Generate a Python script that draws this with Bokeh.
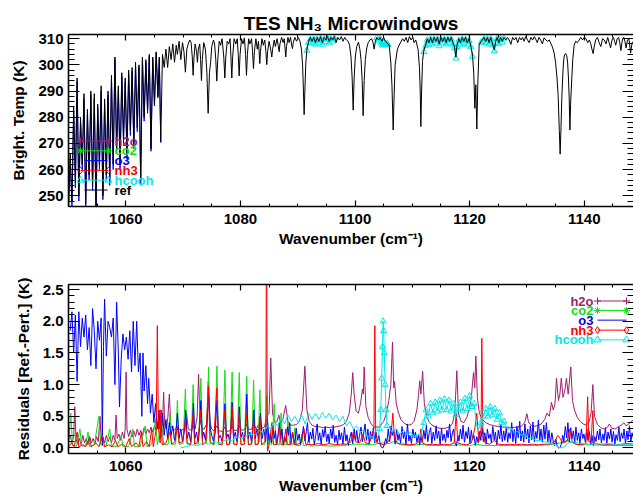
from bokeh.plotting import figure
from bokeh.models import (Range1d, LinearAxis, SingleIntervalTicker, PrintfTickFormatter, Label,
                          CustomLabelingPolicy)
from bokeh.layouts import column
from bokeh.embed import file_html
from bokeh.resources import INLINE

# ---------------- data ----------------
species = ["h2o", "co2", "o3", "nh3", "hcooh"]

# reference brightness-temperature spectrum (wavenumber cm-1, K)
ref_spectrum = [
    (1050.0, 246), (1050.3, 266), (1050.6, 248), (1050.9, 284), (1051.2, 255), (1051.5, 295),
    (1051.8, 250), (1052.1, 280), (1052.4, 262), (1052.7, 289), (1053.0, 247), (1053.3, 283),
    (1053.6, 258), (1053.9, 290), (1054.2, 254), (1054.5, 289), (1054.8, 246), (1055.1, 285),
    (1055.4, 262), (1055.7, 292), (1056.0, 250), (1056.3, 287), (1056.6, 258), (1056.9, 290),
    (1057.2, 256), (1057.5, 296), (1057.8, 262), (1058.1, 303), (1058.4, 268), (1058.7, 292),
    (1059.0, 262), (1059.3, 297), (1059.6, 272), (1059.9, 295), (1060.2, 266), (1060.5, 298),
    (1060.8, 275), (1061.1, 299), (1061.4, 270), (1061.7, 301), (1062.0, 276), (1062.3, 300),
    (1062.6, 256), (1062.9, 303), (1063.2, 280), (1063.5, 302), (1063.8, 283), (1064.1, 304),
    (1064.4, 268), (1064.7, 303), (1065.0, 285), (1065.3, 305), (1065.6, 288), (1065.85, 303),
    (1066.1, 270.6), (1066.4, 304), (1066.7, 299), (1067.0, 306), (1067.3, 299), (1067.6, 307),
    (1067.9, 302), (1068.2, 308), (1068.5, 301), (1068.8, 307.5), (1069.0, 304), (1069.3, 309),
    (1069.6, 302), (1069.9, 308.5), (1070.15, 305), (1070.4, 297.2), (1070.65, 306), (1070.9, 308),
    (1071.15, 309.5), (1071.4, 308.5), (1071.6, 303), (1071.75, 296), (1071.9, 303), (1072.1, 308),
    (1072.35, 305), (1072.5, 301), (1072.65, 306), (1072.9, 308), (1073.05, 302), (1073.2, 294),
    (1073.35, 302), (1073.6, 308.5), (1073.9, 306), (1074.15, 297), (1074.37, 281.5), (1074.6, 297),
    (1074.8, 301), (1075.0, 307), (1075.3, 309.5), (1075.5, 308), (1075.7, 302), (1075.88, 293.8),
    (1076.05, 302), (1076.3, 309), (1076.55, 307.5), (1076.8, 310), (1077.1, 303), (1077.28, 295),
    (1077.45, 303), (1077.7, 309), (1077.95, 308), (1078.2, 310), (1078.35, 303), (1078.5, 295),
    (1078.65, 303), (1078.9, 310), (1079.2, 308), (1079.45, 310), (1079.62, 304), (1079.78, 295.8),
    (1079.94, 304), (1080.2, 310), (1080.45, 308), (1080.7, 310.3), (1080.9, 304), (1081.06, 296),
    (1081.22, 304), (1081.45, 310), (1081.65, 308), (1081.95, 310), (1082.12, 305), (1082.28, 298.6),
    (1082.44, 305), (1082.7, 310), (1082.95, 306), (1083.15, 309), (1083.27, 305), (1083.38, 300.5),
    (1083.5, 305), (1083.75, 310), (1084.0, 307.5), (1084.25, 309.5), (1084.45, 305), (1084.6, 300.1),
    (1084.75, 305), (1085.0, 309), (1085.2, 307), (1085.35, 305), (1085.48, 303), (1085.62, 306),
    (1085.9, 309.5), (1086.1, 307), (1086.4, 310), (1086.62, 307), (1086.76, 305), (1086.9, 308),
    (1087.2, 310.5), (1087.45, 308.5), (1087.65, 310), (1087.8, 306), (1087.92, 303), (1088.05, 307),
    (1088.3, 310.5), (1088.5, 308.5), (1088.75, 310.5), (1088.95, 307.5), (1089.09, 306.2), (1089.23, 308.5),
    (1089.5, 310.5), (1089.8, 309), (1090.1, 310.5), (1090.4, 309), (1090.65, 306), (1090.85, 300),
    (1091.0, 290), (1091.12, 281), (1091.25, 290), (1091.4, 300), (1091.6, 306), (1091.9, 309),
    (1092.2, 310.5), (1092.5, 309), (1092.8, 310.5), (1093.1, 308.5), (1093.4, 310.5), (1093.7, 309),
    (1094.0, 310.8), (1094.3, 308.5), (1094.6, 310.5), (1094.9, 309.5), (1095.2, 310.8), (1095.5, 309),
    (1095.8, 310.5), (1096.1, 309.5), (1096.4, 310.8), (1096.7, 308.5), (1097.0, 310.5), (1097.3, 309.5),
    (1097.6, 310.8), (1097.9, 309), (1098.2, 310.5), (1098.5, 309.5), (1098.8, 309), (1099.05, 307.5),
    (1099.3, 303), (1099.5, 295), (1099.68, 282.7), (1099.85, 295), (1100.05, 303), (1100.3, 307),
    (1100.6, 308.7), (1100.85, 306), (1101.05, 302), (1101.25, 294), (1101.42, 280.6), (1101.6, 294),
    (1101.8, 302), (1102.05, 306.5), (1102.3, 308.5), (1102.6, 309.5), (1102.9, 310), (1103.15, 308.5),
    (1103.34, 306), (1103.55, 309), (1103.8, 310.5), (1104.1, 309.5), (1104.4, 310.5), (1104.7, 309),
    (1105.0, 310.5), (1105.3, 309), (1105.6, 308.5), (1105.96, 307.5), (1106.25, 301), (1106.45, 292),
    (1106.66, 275.1), (1106.85, 290), (1107.0, 300), (1107.4, 306), (1107.7, 307.5), (1108.0, 308.7),
    (1108.3, 310), (1108.6, 309), (1108.9, 310.5), (1109.2, 308.5), (1109.5, 310.8), (1109.8, 309.5),
    (1110.1, 310.5), (1110.3, 308.5), (1110.6, 309.5), (1111.0, 306), (1111.25, 299), (1111.38, 290),
    (1111.49, 276.4), (1111.62, 290), (1111.78, 301.3), (1112.0, 305.5), (1112.36, 308), (1112.6, 310),
    (1112.9, 308.5), (1113.2, 310.5), (1113.5, 308.5), (1113.8, 310.5), (1114.1, 309), (1114.4, 310.5),
    (1114.7, 308), (1115.0, 310.5), (1115.3, 309), (1115.6, 310.5), (1115.9, 308.5), (1116.2, 310.5),
    (1116.5, 309), (1116.8, 310.5), (1117.1, 308.5), (1117.35, 307), (1117.6, 303), (1117.8, 307.5),
    (1118.1, 310), (1118.4, 308.5), (1118.7, 310.5), (1119.0, 309), (1119.3, 310.5), (1119.6, 308.5),
    (1119.9, 310), (1120.2, 307.5), (1120.5, 303.9), (1120.72, 297), (1120.91, 283.4), (1121.08, 292.4),
    (1121.26, 275.5), (1121.42, 292), (1121.66, 307.5), (1122.0, 309), (1122.2, 309.4), (1122.5, 310.5),
    (1122.8, 309), (1123.1, 310.5), (1123.4, 308.5), (1123.7, 310.5), (1124.0, 308), (1124.3, 305.9),
    (1124.55, 309), (1124.8, 310.5), (1125.1, 308.5), (1125.4, 310.5), (1125.7, 309), (1126.0, 310.5),
    (1126.3, 309.5), (1126.6, 310.5), (1126.9, 309.5), (1127.2, 307.8), (1127.5, 310.5), (1127.8, 309.5),
    (1128.1, 310.5), (1128.4, 308.5), (1128.7, 310.5), (1129.0, 309.5), (1129.25, 310.5), (1129.5, 309),
    (1129.8, 310.8), (1130.1, 309.5), (1130.4, 308.5), (1130.7, 310.5), (1131.0, 309.5), (1131.3, 310.8),
    (1131.6, 309.5), (1131.8, 308.5), (1132.1, 310.5), (1132.4, 309.5), (1132.7, 308), (1133.0, 310.3),
    (1133.3, 309.5), (1133.6, 309), (1133.9, 309.5), (1134.2, 308), (1134.46, 306.8), (1134.75, 304.5),
    (1135.0, 301), (1135.25, 295), (1135.45, 288.3), (1135.65, 275), (1135.8, 265.9), (1135.95, 276),
    (1136.1, 288), (1136.3, 298), (1136.44, 302.4), (1136.6, 304), (1136.8, 304.3), (1136.95, 303.5),
    (1137.1, 301), (1137.25, 295), (1137.38, 287), (1137.5, 275.1), (1137.62, 285), (1137.83, 294.8),
    (1138.0, 302), (1138.24, 307.5), (1138.5, 309), (1138.8, 308.5), (1139.1, 309.4), (1139.4, 310.5),
    (1139.7, 309.5), (1140.0, 310.5), (1140.3, 310), (1140.6, 308.5), (1140.9, 309.5), (1141.15, 308),
    (1141.35, 306), (1141.56, 304.3), (1141.75, 307), (1142.0, 309.5), (1142.3, 310.5), (1142.6, 308.5),
    (1142.9, 307), (1143.2, 310), (1143.5, 309.5), (1143.8, 308), (1144.1, 310.5), (1144.35, 308.5),
    (1144.6, 306.5), (1144.85, 309.5), (1145.1, 310.5), (1145.3, 309), (1145.5, 307.5), (1145.75, 310),
    (1146.0, 310.5), (1146.2, 308.5), (1146.4, 305.5), (1146.65, 309.5), (1146.9, 310.5), (1147.1, 309),
    (1147.3, 306.5), (1147.55, 309.5), (1147.8, 310), (1148.1, 304.5), (1148.35, 308.5), (1148.6, 309),
]

# o3-perturbed spectrum in the dense ozone region (shows below the reference)
o3_spectrum_dense = [
    (1050.0, 244), (1050.3, 264), (1050.6, 246), (1050.9, 282), (1051.2, 253), (1051.5, 293.5),
    (1051.8, 248), (1052.1, 278), (1052.4, 260), (1052.7, 287), (1053.0, 245), (1053.3, 281),
    (1053.6, 256), (1053.9, 288.5), (1054.2, 252), (1054.5, 287), (1054.8, 244), (1055.1, 283.5),
    (1055.4, 260), (1055.7, 290), (1056.0, 248.5), (1056.3, 285), (1056.6, 256), (1056.9, 288.5),
    (1057.2, 254), (1057.5, 294.5), (1057.8, 260), (1058.1, 302), (1058.4, 266), (1058.7, 290.5),
    (1059.0, 260), (1059.3, 295.5), (1059.6, 270), (1059.9, 293.5), (1060.2, 264), (1060.5, 296.5),
    (1060.8, 273), (1061.1, 297.5), (1061.4, 268), (1061.7, 299.5), (1062.0, 274.5), (1062.3, 299),
    (1062.6, 254), (1062.9, 302), (1063.2, 278.5), (1063.5, 301), (1063.8, 281.5), (1064.1, 303.2),
    (1064.4, 267), (1064.7, 302.3), (1065.0, 284.3), (1065.3, 304.5), (1065.6, 287.4), (1065.85, 302.6),
    (1066.1, 270.2),
]

# hcooh-perturbed spectrum in its microwindows (top panel)
hcooh_spectrum_windows = [
    [(1091.6, 305.5), (1091.9, 308.5), (1092.2, 309.8), (1092.5, 308.3), (1092.8, 309.8), (1093.1, 307.8),
     (1093.4, 309.8), (1093.7, 308.3), (1094.0, 310.1), (1094.3, 307.8), (1094.6, 309.8), (1094.9, 308.8),
     (1095.2, 310.1), (1095.5, 308.3), (1095.8, 309.8), (1096.1, 309.0), (1096.4, 310.2)],
    [(1103.8, 310.3), (1104.1, 309.3), (1104.4, 310.0), (1104.6, 308.2), (1104.75, 307.5), (1104.9, 308.5),
     (1105.0, 308.7), (1105.15, 307.6), (1105.3, 308.0), (1105.45, 307.8), (1105.6, 308.1), (1105.8, 307.6)],
    [(1112.0, 305.0), (1112.36, 307.4), (1112.6, 309.5), (1112.9, 307.8), (1113.2, 309.8), (1113.5, 307.9),
     (1113.8, 309.8), (1114.1, 308.3), (1114.4, 309.8), (1114.7, 307.2), (1115.0, 309.8), (1115.3, 308.3),
     (1115.6, 309.7), (1115.9, 307.9), (1116.2, 309.8), (1116.5, 308.3), (1116.8, 309.8), (1117.1, 307.8),
     (1117.35, 306.4), (1117.6, 302.5), (1117.8, 306.9), (1118.1, 309.3), (1118.4, 307.8), (1118.7, 309.8),
     (1119.0, 308.2), (1119.3, 309.7), (1119.6, 307.8), (1119.9, 309.2), (1120.2, 306.8), (1120.5, 303.2)],
    [(1122.0, 308.6), (1122.2, 308.9), (1122.5, 309.9), (1122.8, 308.4), (1123.1, 309.9), (1123.4, 307.9),
     (1123.7, 309.9), (1124.0, 307.5), (1124.3, 305.3), (1124.55, 308.5), (1124.8, 310.0), (1125.1, 308.0),
     (1125.4, 310.0), (1125.7, 308.6), (1126.0, 310.1)],
]

# residuals Ref - Pert (K)
h2o_resid = [
    (1050.0, 0.12), (1050.3, 0.2), (1050.6, 0.08), (1050.9, 0.18), (1051.1, 0.65), (1051.3, 0.15),
    (1051.6, 0.06), (1051.9, 0.15), (1052.2, 0.05), (1052.5, 0.2), (1052.8, 0.08), (1053.1, 0.15),
    (1053.4, 0.05), (1053.7, 0.18), (1054.0, 0.08), (1054.3, 0.15), (1054.6, 0.06), (1054.9, 0.18),
    (1055.2, 0.1), (1055.5, 0.5), (1055.7, 0.12), (1056.0, 0.18), (1056.3, 0.08), (1056.6, 0.2),
    (1056.9, 0.1), (1057.2, 0.17), (1057.5, 0.08), (1057.8, 0.2), (1058.1, 0.12), (1058.3, 0.52),
    (1058.5, 0.15), (1058.8, 0.22), (1059.1, 0.12), (1059.4, 0.25), (1059.7, 0.15), (1059.9, 0.3),
    (1060.05, 1.2), (1060.2, 0.3), (1060.5, 0.18), (1060.8, 0.28), (1061.1, 0.17), (1061.4, 0.27),
    (1061.7, 0.18), (1062.0, 0.3), (1062.3, 0.2), (1062.6, 0.28), (1062.9, 0.2), (1063.2, 0.32),
    (1063.5, 0.22), (1063.8, 0.3), (1064.1, 0.24), (1064.4, 0.33), (1064.7, 0.25), (1065.0, 0.35),
    (1065.3, 0.28), (1065.6, 0.4), (1065.9, 0.3), (1066.15, 0.6), (1066.4, 0.35), (1066.6, 0.88),
    (1066.8, 0.35), (1067.1, 0.3), (1067.35, 0.5), (1067.6, 0.85), (1067.85, 0.35), (1068.2, 0.3),
    (1068.5, 0.28), (1068.8, 0.32), (1069.1, 0.28), (1069.4, 0.3), (1069.7, 0.27), (1070.0, 0.3),
    (1070.3, 0.28), (1070.6, 0.55), (1070.9, 0.3), (1071.2, 0.28), (1071.5, 0.3), (1071.8, 0.35),
    (1072.1, 0.3), (1072.45, 0.5), (1072.7, 1.16), (1072.95, 0.45), (1073.3, 0.3), (1073.7, 0.3),
    (1074.1, 0.38), (1074.4, 1.05), (1074.7, 0.4), (1075.0, 0.3), (1075.4, 0.27), (1075.9, 0.35),
    (1076.3, 0.27), (1076.8, 0.26), (1077.3, 0.33), (1077.7, 0.26), (1078.1, 0.27), (1078.55, 0.34),
    (1079.0, 0.27), (1079.4, 0.28), (1079.8, 0.35), (1080.2, 0.28), (1080.7, 0.29), (1081.1, 0.37),
    (1081.5, 0.29), (1082.0, 0.3), (1082.3, 0.38), (1082.8, 0.3), (1083.4, 0.42), (1083.8, 0.31),
    (1084.2, 0.33), (1084.6, 0.5), (1085.0, 0.55), (1085.3, 1.42), (1085.6, 0.55), (1086.0, 0.4),
    (1086.4, 0.42), (1086.7, 0.52), (1087.0, 0.4), (1087.4, 0.45), (1087.9, 0.67), (1088.3, 0.42),
    (1088.8, 0.36), (1089.3, 0.36), (1089.8, 0.37), (1090.3, 0.42), (1090.8, 0.6), (1091.25, 1.29),
    (1091.6, 0.6), (1092.0, 0.42), (1092.5, 0.36), (1093.0, 0.34), (1093.5, 0.34), (1094.0, 0.33),
    (1094.5, 0.32), (1095.0, 0.33), (1095.5, 0.32), (1096.0, 0.33), (1096.5, 0.33), (1097.0, 0.34),
    (1097.5, 0.35), (1098.0, 0.37), (1098.5, 0.42), (1099.0, 0.55), (1099.35, 0.85), (1099.6, 1.19),
    (1099.85, 0.85), (1100.2, 0.58), (1100.6, 0.55), (1100.95, 0.7), (1101.3, 0.93), (1101.45, 0.85),
    (1101.6, 1.28), (1101.9, 0.65), (1102.3, 0.48), (1102.8, 0.38), (1103.4, 0.33), (1104.0, 0.33),
    (1104.5, 0.36), (1105.0, 0.42), (1105.5, 0.55), (1105.9, 0.75), (1106.25, 1.0), (1106.55, 1.67),
    (1106.75, 0.95), (1106.9, 1.05), (1107.2, 0.7), (1107.6, 0.55), (1108.0, 0.45), (1108.6, 0.39),
    (1109.2, 0.36), (1109.8, 0.37), (1110.3, 0.42), (1110.8, 0.6), (1111.1, 0.85), (1111.3, 1.06),
    (1111.5, 0.85), (1111.8, 1.21), (1112.1, 0.7), (1112.5, 0.5), (1113.0, 0.4), (1113.6, 0.35),
    (1114.3, 0.32), (1115.0, 0.31), (1115.7, 0.31), (1116.4, 0.33), (1117.0, 0.38), (1117.4, 0.55),
    (1117.77, 1.22), (1118.05, 0.55), (1118.5, 0.42), (1119.0, 0.4), (1119.5, 0.48), (1119.95, 0.62),
    (1120.3, 0.8), (1120.68, 1.19), (1120.9, 0.95), (1121.09, 1.45), (1121.35, 0.8), (1121.7, 0.55),
    (1122.2, 0.45), (1122.8, 0.4), (1123.5, 0.37), (1124.3, 0.35), (1125.0, 0.34), (1125.8, 0.33),
    (1126.6, 0.33), (1127.4, 0.32), (1128.2, 0.33), (1129.0, 0.34), (1129.6, 0.4), (1130.0, 0.54),
    (1130.3, 0.4), (1131.0, 0.34), (1131.8, 0.35), (1132.5, 0.38), (1133.1, 0.45), (1133.5, 0.55),
    (1133.9, 0.5), (1134.29, 0.72), (1134.6, 0.6), (1134.9, 0.7), (1135.16, 1.1), (1135.5, 0.75),
    (1135.75, 0.85), (1136.0, 1.1), (1136.3, 0.8), (1136.6, 0.9), (1136.9, 1.1), (1137.2, 0.85),
    (1137.66, 1.28), (1137.95, 0.75), (1138.3, 0.6), (1138.8, 0.48), (1139.3, 0.42), (1139.8, 0.38),
    (1140.3, 0.36), (1140.8, 0.4), (1141.2, 0.55), (1141.5, 1.0), (1141.8, 0.5), (1142.3, 0.37),
    (1142.9, 0.32), (1143.5, 0.3), (1144.0, 0.32), (1144.4, 0.38), (1144.8, 0.31), (1145.4, 0.3),
    (1146.0, 0.34), (1146.5, 0.36), (1146.9, 0.4), (1147.3, 0.35), (1147.8, 0.38), (1148.2, 0.42),
    (1148.6, 0.44),
]

co2_resid = [
    (1050.0, 0.05), (1050.4, 0.55), (1050.7, 0.04), (1051.4, 0.03), (1052.0, 0.3), (1052.3, 0.03),
    (1053.0, 0.03), (1053.4, 0.25), (1053.7, 0.02), (1054.5, 0.05), (1055.3, 0.5), (1055.6, 0.05),
    (1056.5, 0.02), (1057.2, 0.3), (1057.5, 0.02), (1058.5, 0.03), (1059.2, 0.2), (1059.5, 0.02),
    (1060.5, 0.02), (1061.2, 0.3), (1061.5, 0.02), (1062.5, 0.02), (1063.4, 0.35), (1063.7, 0.02),
    (1064.5, 0.05), (1065.2, 0.45), (1065.5, 0.05), (1066.3, 0.4), (1066.6, 0.05), (1067.4, 0.06),
    (1067.7, 0.55), (1068.0, 0.06), (1068.7, 0.06), (1069.0, 0.75), (1069.3, 0.06), (1070.0, 0.07),
    (1070.4, 0.93), (1070.7, 0.06), (1071.4, 0.07), (1071.75, 1.0), (1072.05, 0.06), (1072.7, 0.07),
    (1073.1, 1.1), (1073.4, 0.06), (1074.1, 0.08), (1074.45, 1.28), (1074.75, 0.07), (1075.5, 0.06),
    (1075.9, 1.29), (1076.2, 0.06), (1076.9, 0.06), (1077.3, 1.23), (1077.6, 0.06), (1078.2, 0.06),
    (1078.55, 1.2), (1078.85, 0.06), (1079.45, 0.06), (1079.8, 1.19), (1080.1, 0.06), (1080.7, 0.06),
    (1081.1, 1.13), (1081.4, 0.06), (1082.0, 0.06), (1082.3, 1.07), (1082.6, 0.06), (1083.1, 0.06),
    (1083.4, 0.92), (1083.7, 0.06), (1084.3, 0.06), (1084.6, 0.83), (1084.9, 0.06), (1085.5, 0.06),
    (1085.9, 0.7), (1086.2, 0.06), (1086.8, 0.05), (1087.1, 0.55), (1087.4, 0.05), (1088.0, 0.05),
    (1088.3, 0.42), (1088.6, 0.05), (1089.2, 0.05), (1089.5, 0.32), (1089.8, 0.04), (1090.4, 0.04),
    (1090.7, 0.22), (1091.0, 0.04), (1091.6, 0.04), (1091.9, 0.15), (1092.2, 0.03), (1094.0, 0.04),
    (1096.0, 0.03), (1098.0, 0.04), (1099.7, 0.06), (1101.4, 0.06), (1103.0, 0.05), (1104.0, 0.07),
    (1105.0, 0.08), (1106.0, 0.07), (1106.7, 0.1), (1108.0, 0.05), (1110.0, 0.04), (1111.5, 0.06),
    (1113.0, 0.04), (1115.0, 0.04), (1117.0, 0.04), (1118.0, 0.05), (1120.0, 0.04), (1121.2, 0.06),
    (1122.5, 0.04), (1125.0, 0.04), (1128.0, 0.04), (1131.0, 0.04), (1134.0, 0.05), (1135.8, 0.08),
    (1137.0, 0.12), (1137.5, 0.1), (1139.0, 0.05), (1141.5, 0.05), (1144.0, 0.04), (1146.0, 0.04),
    (1148.6, 0.04),
]

o3_resid = [
    (1050.3, 1.85), (1050.6, 2.15), (1050.9, 1.5), (1051.2, 2.1), (1051.5, 1.05), (1051.8, 2.15),
    (1052.1, 1.6), (1052.4, 2.05), (1052.7, 1.75), (1053.0, 2.1), (1053.3, 1.55), (1053.6, 1.9),
    (1053.9, 1.3), (1054.2, 2.2), (1054.5, 1.85), (1054.8, 1.25), (1055.1, 2.0), (1055.4, 1.7),
    (1055.7, 2.05), (1055.9, 0.05), (1056.1, 1.6), (1056.3, 2.35), (1056.6, 1.45), (1056.9, 2.0),
    (1057.2, 1.9), (1057.5, 1.75), (1057.8, 2.05), (1058.1, 1.0), (1058.4, 2.3), (1058.7, 1.5),
    (1058.9, 0.65), (1059.2, 1.4), (1059.5, 1.8), (1059.8, 1.55), (1060.1, 1.75), (1060.4, 1.4),
    (1060.7, 1.85), (1061.0, 1.2), (1061.3, 2.0), (1061.6, 1.3), (1061.9, 2.0), (1062.2, 1.2),
    (1062.5, 1.5), (1062.8, 0.5), (1063.0, 1.5), (1063.2, 0.9), (1063.5, 1.3), (1063.8, 0.7),
    (1064.0, 1.1), (1064.3, 0.55), (1064.6, 0.85), (1064.9, 0.4), (1065.2, 0.7), (1065.5, 0.3),
    (1065.8, 0.6), (1066.1, 0.15), (1066.4, 0.55), (1066.7, 0.2), (1067.0, 0.45), (1067.3, 0.15),
    (1067.6, 0.4), (1067.9, 0.2), (1068.2, 0.35), (1068.5, 0.12), (1068.8, 0.3), (1069.0, 0.55),
    (1069.3, 0.15), (1069.6, 0.3), (1069.9, 0.1), (1070.2, 0.25), (1070.45, 0.6), (1070.7, 0.15),
    (1071.0, 0.25), (1071.3, 0.1), (1071.55, 0.3), (1071.8, 0.7), (1072.05, 0.15), (1072.35, 0.25),
    (1072.6, 0.1), (1072.85, 0.3), (1073.1, 0.75), (1073.35, 0.15), (1073.6, 0.25), (1073.9, 0.12),
    (1074.15, 0.35), (1074.45, 0.85), (1074.75, 0.3), (1075.0, 0.2), (1075.3, 0.1), (1075.6, 0.25),
    (1075.9, 0.75), (1076.2, 0.15), (1076.5, 0.2), (1076.8, 0.1), (1077.05, 0.25), (1077.3, 0.7),
    (1077.55, 0.15), (1077.85, 0.22), (1078.15, 0.1), (1078.35, 0.25), (1078.55, 0.72), (1078.8, 0.15),
    (1079.1, 0.25), (1079.4, 0.1), (1079.6, 0.2), (1079.8, 0.65), (1080.05, 0.15), (1080.35, 0.25),
    (1080.65, 0.1), (1080.9, 0.28), (1081.1, 0.85), (1081.35, 0.15), (1081.65, 0.25), (1081.95, 0.08),
    (1082.15, 0.25), (1082.35, 0.6), (1082.6, 0.15), (1082.9, 0.3), (1083.2, 0.1), (1083.5, 0.55),
    (1083.8, 0.15), (1084.1, 0.3), (1084.4, 0.1), (1084.7, 0.45), (1085.0, 0.12), (1085.2, 0.22),
    (1085.4, 0.08), (1085.65, 0.36), (1085.9, 0.15), (1086.1, 0.27), (1086.35, 0.06), (1086.6, 0.2),
    (1086.8, 0.4), (1087.05, 0.14), (1087.25, 0.3), (1087.5, 0.05), (1087.7, 0.18), (1087.95, 0.1),
    (1088.2, 0.33), (1088.4, 0.2), (1088.6, 0.4), (1088.85, 0.07), (1089.1, 0.25), (1089.3, 0.16),
    (1089.5, 0.06), (1089.75, 0.31), (1090.0, 0.12), (1090.25, 0.22), (1090.5, 0.05), (1090.75, 0.18),
    (1091.0, 0.34), (1091.25, 0.11), (1091.5, 0.26), (1091.7, 0.4), (1091.95, 0.09), (1092.2, 0.25),
    (1092.45, 0.14), (1092.65, 0.31), (1092.9, 0.05), (1093.15, 0.2), (1093.4, 0.38), (1093.6, 0.12),
    (1093.85, 0.24), (1094.1, 0.06), (1094.35, 0.29), (1094.55, 0.17), (1094.8, 0.34), (1095.05, 0.1),
    (1095.3, 0.22), (1095.5, 0.07), (1095.75, 0.3), (1096.0, 0.15), (1096.2, 0.36), (1096.45, 0.09),
    (1096.7, 0.2), (1096.95, 0.05), (1097.2, 0.28), (1097.4, 0.13), (1097.65, 0.24), (1097.9, 0.06),
    (1098.15, 0.33), (1098.4, 0.11), (1098.6, 0.21), (1098.85, 0.04), (1099.1, 0.16), (1099.35, 0.25),
    (1099.6, 0.07), (1099.85, 0.3), (1100.1, 0.12), (1100.3, 0.28), (1100.55, 0.08), (1100.8, 0.2),
    (1101.05, 0.33), (1101.3, 0.1), (1101.5, 0.22), (1101.75, 0.38), (1102.0, 0.12), (1102.25, 0.3),
    (1102.5, 0.06), (1102.7, 0.26), (1102.95, 0.14), (1103.2, 0.32), (1103.45, 0.08), (1103.65, 0.25),
    (1103.9, 0.1), (1104.15, 0.2), (1104.4, 0.06), (1104.6, 0.01), (1104.85, 0.0), (1105.1, 0.05),
    (1105.35, 0.15), (1105.55, 0.08), (1105.8, 0.3), (1106.05, 0.1), (1106.3, 0.35), (1106.55, 0.2),
    (1106.75, 0.28), (1107.0, 0.06), (1107.25, 0.3), (1107.5, 0.12), (1107.7, 0.22), (1107.95, 0.08),
    (1108.2, 0.34), (1108.45, 0.15), (1108.65, 0.26), (1108.9, 0.05), (1109.15, 0.38), (1109.4, 0.11),
    (1109.6, 0.2), (1109.85, 0.07), (1110.1, 0.3), (1110.35, 0.16), (1110.55, 0.25), (1110.8, 0.09),
    (1111.05, 0.2), (1111.3, 0.05), (1111.5, 0.18), (1111.75, 0.08), (1112.0, 0.28), (1112.25, 0.14),
    (1112.45, 0.36), (1112.7, 0.1), (1112.95, 0.24), (1113.2, 0.32), (1113.4, 0.07), (1113.65, 0.25),
    (1113.9, 0.12), (1114.15, 0.35), (1114.35, 0.15), (1114.6, 0.27), (1114.85, 0.06), (1115.1, 0.31),
    (1115.3, 0.12), (1115.55, 0.22), (1115.8, 0.09), (1116.05, 0.28), (1116.25, 0.16), (1116.5, 0.38),
    (1116.75, 0.1), (1117.0, 0.24), (1117.2, 0.3), (1117.45, 0.08), (1117.7, 0.03), (1117.95, 0.2),
    (1118.15, 0.11), (1118.4, 0.3), (1118.65, 0.14), (1118.85, 0.36), (1119.1, 0.09), (1119.35, 0.26),
    (1119.6, 0.15), (1119.8, 0.33), (1120.05, 0.07), (1120.3, 0.28), (1120.5, 0.13), (1120.75, 0.2),
    (1121.0, 0.04), (1121.25, 0.18), (1121.5, 0.08), (1121.7, 0.26), (1121.95, 0.12), (1122.2, 0.32),
    (1122.4, 0.1), (1122.65, 0.24), (1122.9, 0.06), (1123.1, 0.3), (1123.35, 0.15), (1123.6, 0.22),
    (1123.8, 0.08), (1124.05, 0.34), (1124.3, 0.12), (1124.5, 0.25), (1124.75, 0.05), (1125.0, 0.28),
    (1125.25, 0.14), (1125.45, 0.37), (1125.7, 0.1), (1125.95, 0.27), (1126.15, 0.12), (1126.4, 0.32),
    (1126.65, 0.09), (1126.85, 0.24), (1127.1, 0.15), (1127.35, 0.4), (1127.55, 0.1), (1127.8, 0.29),
    (1128.05, 0.07), (1128.25, 0.34), (1128.5, 0.16), (1128.75, 0.42), (1128.95, 0.11), (1129.2, 0.27),
    (1129.45, 0.09), (1129.65, 0.38), (1129.9, 0.14), (1130.15, 0.3), (1130.35, 0.08), (1130.6, 0.35),
    (1130.85, 0.13), (1131.05, 0.41), (1131.3, 0.1), (1131.55, 0.26), (1131.75, 0.15), (1132.0, 0.44),
    (1132.25, 0.12), (1132.45, 0.3), (1132.7, 0.09), (1132.95, 0.36), (1133.15, 0.14), (1133.4, 0.4),
    (1133.65, 0.1), (1133.85, 0.28), (1134.1, 0.07), (1134.35, 0.24), (1134.6, 0.1), (1134.8, 0.04),
    (1135.05, 0.14), (1135.3, 0.02), (1135.55, 0.0), (1135.8, 0.01), (1136.0, 0.06), (1136.25, 0.2),
    (1136.45, 0.1), (1136.7, 0.34), (1136.95, 0.16), (1137.15, 0.4), (1137.4, 0.09), (1137.65, 0.32),
    (1137.85, 0.14), (1138.1, 0.27), (1138.35, 0.08), (1138.55, 0.33), (1138.8, 0.12), (1139.05, 0.24),
    (1139.25, 0.06), (1139.5, 0.3), (1139.75, 0.15), (1139.95, 0.22), (1140.2, 0.09), (1140.45, 0.3),
    (1140.65, 0.12), (1140.9, 0.26), (1141.15, 0.05), (1141.35, 0.2), (1141.6, 0.04), (1141.85, 0.18),
    (1142.05, 0.1), (1142.3, 0.27), (1142.55, 0.13), (1142.75, 0.3), (1143.0, 0.08), (1143.25, 0.22),
    (1143.45, 0.12), (1143.7, 0.32), (1143.95, 0.07), (1144.15, 0.25), (1144.4, 0.14), (1144.65, 0.3),
    (1144.85, 0.09), (1145.1, 0.26), (1145.35, 0.06), (1145.55, 0.21), (1145.8, 0.12), (1146.05, 0.33),
    (1146.25, 0.1), (1146.5, 0.24), (1146.75, 0.15), (1146.95, 0.3), (1147.2, 0.07), (1147.45, 0.27),
    (1147.65, 0.13), (1147.9, 0.35), (1148.15, 0.1), (1148.35, 0.24), (1148.6, 0.15),
]

nh3_resid = [
    (1050.0, 0.02), (1050.5, 0.08), (1051.0, 0.02), (1051.5, 0.25), (1051.8, 0.02), (1052.5, 0.05),
    (1053.0, 0.02), (1053.6, 0.15), (1054.0, 0.02), (1054.8, 0.08), (1055.3, 0.02), (1055.9, 0.2),
    (1056.3, 0.02), (1057.0, 0.05), (1057.6, 0.02), (1058.2, 0.12), (1058.6, 0.02), (1059.4, 0.06),
    (1060.0, 0.02), (1060.6, 0.15), (1061.0, 0.02), (1061.8, 0.08), (1062.3, 0.02), (1062.7, 0.25),
    (1063.0, 0.02), (1063.6, 0.1), (1064.1, 0.02), (1064.5, 0.3), (1064.8, 0.02), (1065.3, 0.3),
    (1065.5, 1.93), (1065.7, 0.3), (1066.0, 0.08), (1066.15, 0.6), (1066.35, 0.05), (1067.0, 0.08),
    (1067.7, 0.25), (1068.0, 0.06), (1068.6, 0.1), (1069.0, 0.35), (1069.3, 0.08), (1069.9, 0.1),
    (1070.4, 0.45), (1070.7, 0.08), (1071.3, 0.05), (1071.75, 0.55), (1072.0, 0.06), (1072.6, 0.1),
    (1073.1, 0.6), (1073.4, 0.05), (1074.0, 0.1), (1074.4, 0.98), (1074.7, 0.1), (1075.3, 0.05),
    (1075.9, 0.95), (1076.2, 0.06), (1076.8, 0.05), (1077.3, 0.6), (1077.6, 0.05), (1078.1, 0.06),
    (1078.55, 0.65), (1078.85, 0.06), (1079.4, 0.05), (1079.8, 0.55), (1080.1, 0.05), (1080.7, 0.06),
    (1081.1, 0.55), (1081.4, 0.05), (1081.9, 0.06), (1082.3, 0.45), (1082.6, 0.05), (1083.1, 0.06),
    (1083.4, 0.5), (1083.7, 0.05), (1084.3, 0.1), (1084.45, 0.4), (1084.52, 2.9), (1084.6, 2.9),
    (1084.68, 0.4), (1084.75, -0.05), (1085.0, 0.05), (1085.5, 0.4), (1085.8, 0.05), (1086.3, 0.06),
    (1086.8, 0.35), (1087.1, 0.05), (1087.6, 0.06), (1087.9, 0.3), (1088.2, 0.05), (1088.8, 0.06),
    (1089.1, 0.25), (1089.4, 0.05), (1090.0, 0.06), (1090.6, 0.08), (1091.1, 0.3), (1091.4, 0.06),
    (1092.5, 0.05), (1093.5, 0.07), (1094.5, 0.05), (1095.5, 0.07), (1096.5, 0.05), (1097.5, 0.06),
    (1098.5, 0.06), (1099.3, 0.1), (1099.7, 0.25), (1100.1, 0.1), (1100.8, 0.08), (1101.4, 0.22),
    (1101.8, 0.08), (1102.5, 0.07), (1103.3, 0.3), (1103.46, 1.93), (1103.6, 0.3), (1103.8, 0.08),
    (1104.5, 0.06), (1105.2, 0.05), (1105.8, 0.1), (1106.3, 0.2), (1106.6, 0.55), (1106.9, 0.15),
    (1107.5, 0.07), (1108.5, 0.06), (1109.5, 0.05), (1110.5, 0.06), (1111.2, 0.1), (1111.5, 0.3),
    (1111.8, 0.08), (1112.5, 0.05), (1113.5, 0.06), (1114.5, 0.05), (1115.5, 0.06), (1116.5, 0.05),
    (1117.3, 0.08), (1117.65, 0.55), (1117.95, 0.08), (1118.6, 0.06), (1119.5, 0.05), (1120.3, 0.08),
    (1120.9, 0.3), (1121.25, 0.55), (1121.6, 0.1), (1122.0, 0.3), (1122.13, 1.73), (1122.3, 0.3),
    (1122.7, 0.08), (1123.5, 0.06), (1124.3, 0.12), (1125.0, 0.06), (1126.0, 0.05), (1127.0, 0.06),
    (1128.0, 0.05), (1129.0, 0.06), (1130.0, 0.05), (1131.0, 0.06), (1132.0, 0.05), (1133.0, 0.06),
    (1134.0, 0.06), (1134.8, 0.1), (1135.4, 0.2), (1135.8, 0.15), (1136.2, 0.08), (1137.0, 0.1),
    (1137.5, 0.3), (1137.9, 0.1), (1138.5, 0.06), (1139.5, 0.05), (1140.3, 0.08), (1140.6, 0.81),
    (1140.8, 0.1), (1141.2, 0.1), (1141.5, 0.59), (1141.7, 0.08), (1142.5, 0.06), (1143.5, 0.05),
    (1144.5, 0.06), (1145.5, 0.05), (1146.5, 0.06), (1147.5, 0.07), (1148.6, 0.06),
]

hcooh_resid = [
    (1069.5, 0.0), (1070.5, 0.02), (1071.5, 0.05), (1072.5, 0.04), (1073.5, 0.08), (1074.5, 0.06),
    (1075.5, 0.1), (1076.5, 0.08), (1077.5, 0.13), (1078.5, 0.12), (1079.5, 0.17), (1080.5, 0.15),
    (1081.5, 0.22), (1082.5, 0.2), (1083.3, 0.28), (1084.0, 0.24), (1084.7, 0.35), (1085.3, 0.3),
    (1085.9, 0.42), (1086.5, 0.35), (1087.1, 0.48), (1087.7, 0.38), (1088.3, 0.52), (1088.9, 0.42),
    (1089.5, 0.5), (1090.1, 0.4), (1090.7, 0.52), (1091.3, 0.38), (1091.9, 0.55), (1092.5, 0.45),
    (1093.1, 0.55), (1093.7, 0.45), (1094.3, 0.56), (1094.9, 0.47), (1095.5, 0.55), (1096.1, 0.44),
    (1096.7, 0.52), (1097.3, 0.42), (1097.9, 0.5), (1098.5, 0.35), (1099.1, 0.42), (1099.7, 0.3),
    (1100.3, 0.35), (1100.9, 0.25), (1101.5, 0.28), (1102.1, 0.18), (1102.7, 0.2), (1103.3, 0.12),
    (1103.9, 0.15), (1104.3, 0.3), (1104.5, 0.6), (1104.65, 1.1), (1104.8, 1.6), (1104.9, 2.0),
    (1105.0, 1.85), (1105.1, 1.5), (1105.25, 1.0), (1105.4, 0.6), (1105.6, 0.35), (1106.0, 0.3),
    (1106.5, 0.25), (1107.2, 0.3), (1107.8, 0.22), (1108.5, 0.28), (1109.1, 0.2), (1109.7, 0.25),
    (1110.3, 0.18), (1110.9, 0.22), (1111.5, 0.2), (1112.0, 0.4), (1112.4, 0.6), (1112.8, 0.5),
    (1113.2, 0.7), (1113.6, 0.55), (1114.0, 0.72), (1114.4, 0.58), (1114.8, 0.75), (1115.2, 0.6),
    (1115.6, 0.77), (1116.0, 0.6), (1116.4, 0.75), (1116.8, 0.58), (1117.2, 0.7), (1117.6, 0.52),
    (1118.0, 0.62), (1118.4, 0.72), (1118.8, 0.58), (1119.2, 0.78), (1119.6, 0.62), (1120.0, 0.82),
    (1120.4, 0.65), (1120.8, 0.7), (1121.2, 0.35), (1121.6, 0.3), (1122.0, 0.4), (1122.4, 0.5),
    (1122.8, 0.62), (1123.2, 0.5), (1123.6, 0.65), (1124.0, 0.52), (1124.4, 0.62), (1124.8, 0.45),
    (1125.2, 0.55), (1125.6, 0.4), (1126.0, 0.42), (1126.6, 0.3), (1127.2, 0.32), (1127.8, 0.25),
    (1128.4, 0.26), (1129.0, 0.2), (1129.6, 0.22), (1130.2, 0.15), (1130.8, 0.16), (1131.5, 0.12),
    (1132.2, 0.12), (1133.0, 0.1), (1134.0, 0.08), (1135.0, 0.05), (1135.8, 0.0), (1136.5, 0.02),
    (1137.3, 0.08), (1138.0, 0.1), (1139.0, 0.08), (1140.0, 0.07), (1141.0, 0.06), (1142.0, 0.07),
    (1143.0, 0.06), (1144.0, 0.07), (1145.0, 0.06), (1146.0, 0.05), (1147.0, 0.06), (1148.6, 0.05),
]

# wavenumber windows in which the hcooh residual carries triangle symbols
hcooh_symbol_windows = [(1104.3, 1105.7), (1112.0, 1121.0), (1122.0, 1126.1)]

# ---------------- styling ----------------
FONT = "Liberation Sans"
H2O, CO2, O3, NH3, HCOOH = "#A21C6E", "#11DD11", "#0000FF", "#FF0000", "#00E8E8"
series_color = dict(h2o=H2O, co2=CO2, o3=O3, nh3=NH3, hcooh=HCOOH)
series_marker = dict(h2o="cross", co2="asterisk", o3=None, nh3="diamond", hcooh="triangle")

W = 633
LEFT = 68
X0, X1 = 1050.0, 1148.6
TOP_H, BOT_H = 250, 246
TOP_Y = (245.9, 311.6)
BOT_Y = (-0.087, 2.58)

NO_LABELS = "for (let i = 0; i < indices.size; i++) { indices.unset(i) }\nreturn indices"


def split(pts):
    return [p[0] for p in pts], [p[1] for p in pts]


def make_fig(h, yr, b_top, b_bot):
    p = figure(width=W, height=h, x_range=Range1d(X0, X1), y_range=Range1d(*yr),
               output_backend="svg", toolbar_location=None,
               min_border_left=LEFT, min_border_right=0,
               min_border_top=b_top, min_border_bottom=b_bot)
    p.xgrid.visible = False
    p.ygrid.visible = False
    p.outline_line_color = None
    p.background_fill_color = "white"
    p.border_fill_color = "white"
    return p


def style_axis(ax, ticker, tin, mtin, labels=True, fmt=None, line=True):
    ax.ticker = ticker
    ax.major_tick_in = tin
    ax.major_tick_out = 0
    ax.minor_tick_in = mtin
    ax.minor_tick_out = 0
    ax.major_tick_line_color = "black"
    ax.minor_tick_line_color = "black"
    ax.major_tick_line_width = 1.2
    ax.minor_tick_line_width = 1
    ax.axis_line_width = 1.6
    ax.axis_line_color = "black" if line else None
    if labels:
        ax.major_label_text_font = FONT
        ax.major_label_text_font_size = "15px"
        ax.major_label_text_font_style = "bold"
        ax.major_label_text_color = "black"
        if fmt:
            ax.formatter = PrintfTickFormatter(format=fmt)
    else:
        ax.major_label_text_font_size = "0px"
        ax.major_label_standoff = 0
        ax.major_label_policy = CustomLabelingPolicy(code=NO_LABELS)


def setup_axes(p, yint, yminor, yfmt, xlabel, ylabel):
    xt = lambda: SingleIntervalTicker(interval=20, num_minor_ticks=4)
    yt = lambda: SingleIntervalTicker(interval=yint, num_minor_ticks=yminor)
    bx = p.xaxis[0]
    ly = p.yaxis[0]
    style_axis(bx, xt(), 6, 3, True, "%d")
    style_axis(ly, yt(), 11, 6, True, yfmt)
    bx.major_label_standoff = 7
    ly.major_label_standoff = 5
    for ax, lab, st in ((bx, xlabel, 3), (ly, ylabel, 8)):
        ax.axis_label = lab
        ax.axis_label_text_font = FONT
        ax.axis_label_text_font_size = "15.5px"
        ax.axis_label_text_font_style = "bold"
        ax.axis_label_text_color = "black"
        ax.axis_label_standoff = st
    ta = LinearAxis()
    style_axis(ta, xt(), 6, 3, labels=False)
    p.add_layout(ta, "above")
    ra = LinearAxis()
    style_axis(ra, yt(), 11, 6, labels=False, line=False)
    p.add_layout(ra, "right")


# ---------------- top panel ----------------
top = make_fig(TOP_H, TOP_Y, 34, 44)
top.title.text = "TES NH\u2083 Microwindows"
top.title.align = "center"
top.title.text_font = FONT
top.title.text_font_size = "19px"
top.title.text_font_style = "bold"
top.title.text_color = "black"
top.title.standoff = 2
top.title.offset = 4
setup_axes(top, 10, 5, "%d", "Wavenumber (cm\u207b\u00b9)", "Bright. Temp (K)")

ow, ob = split(o3_spectrum_dense)
top.line(ow, ob, color=O3, line_width=1)
for win in hcooh_spectrum_windows:
    hw, hb = split(win)
    top.line(hw, hb, color=HCOOH, line_width=1)
    top.scatter(hw, hb, marker="triangle", size=6, line_color=HCOOH, fill_color=None, line_width=1)
rw, rb = split(ref_spectrum)
top.line(rw, rb, color="black", line_width=1)


# helpers converting page pixel positions of legend decorations to data units
def tx(px):
    return X0 + (px - LEFT) * (X1 - X0) / (W - LEFT)


def ty(py):
    return TOP_Y[1] - (py - 34) * (TOP_Y[1] - TOP_Y[0]) / 172.0


def by(py):
    return BOT_Y[1] - (py - 284) * (BOT_Y[1] - BOT_Y[0]) / 174.0


top_legend = species + ["ref"]
for i, name in enumerate(top_legend):
    color = series_color.get(name, "black")
    marker = series_marker.get(name)
    yy = ty(140.5 + 9.8 * i)
    xa, xb = (tx(80), tx(108)) if marker else (tx(84), tx(107))
    top.line([xa, xb], [yy, yy], color=color, line_width=1)
    if marker:
        top.scatter([xa, xb], [yy, yy], marker=marker, size=7, line_color=color,
                    fill_color=None, line_width=1)
    top.add_layout(Label(x=tx(114), y=yy, text=name, text_color=color, text_font=FONT,
                         text_font_size="13px", text_font_style="bold",
                         text_align="left", text_baseline="middle"))

# ---------------- bottom panel ----------------
bot = make_fig(BOT_H, BOT_Y, 34, 38)
setup_axes(bot, 0.5, 5, "%.1f", "Wavenumber (cm\u207b\u00b9)", "Residuals [Ref.-Pert.] (K)")

resid = dict(h2o=h2o_resid, co2=co2_resid, o3=o3_resid, nh3=nh3_resid, hcooh=hcooh_resid)
for name in species:
    xw, yv = split(resid[name])
    bot.line(xw, yv, color=series_color[name], line_width=1)

hx, hy = split(hcooh_resid)
sel = [(a, b) for a, b in zip(hx, hy) if any(lo <= a <= hi for lo, hi in hcooh_symbol_windows)]
sx, sy = split(sel)
bot.scatter(sx, sy, marker="triangle", size=6, line_color=HCOOH, fill_color=None, line_width=1)

bot_rows = [301, 310.7, 320.7, 331, 341]
for name, py in zip(species, bot_rows):
    color = series_color[name]
    marker = series_marker[name]
    yy = by(py)
    xa, xb = tx(597), tx(626)
    bot.line([xa, xb], [yy, yy], color=color, line_width=1)
    if marker:
        bot.scatter([xa, xb], [yy, yy], marker=marker, size=7, line_color=color,
                    fill_color=None, line_width=1)
    bot.add_layout(Label(x=tx(593), y=yy, text=name, text_color=color, text_font=FONT,
                         text_font_size="13px", text_font_style="bold",
                         text_align="right", text_baseline="middle"))

layout = column(top, bot, spacing=0)
open("out.html", "w").write(file_html(layout, INLINE))
